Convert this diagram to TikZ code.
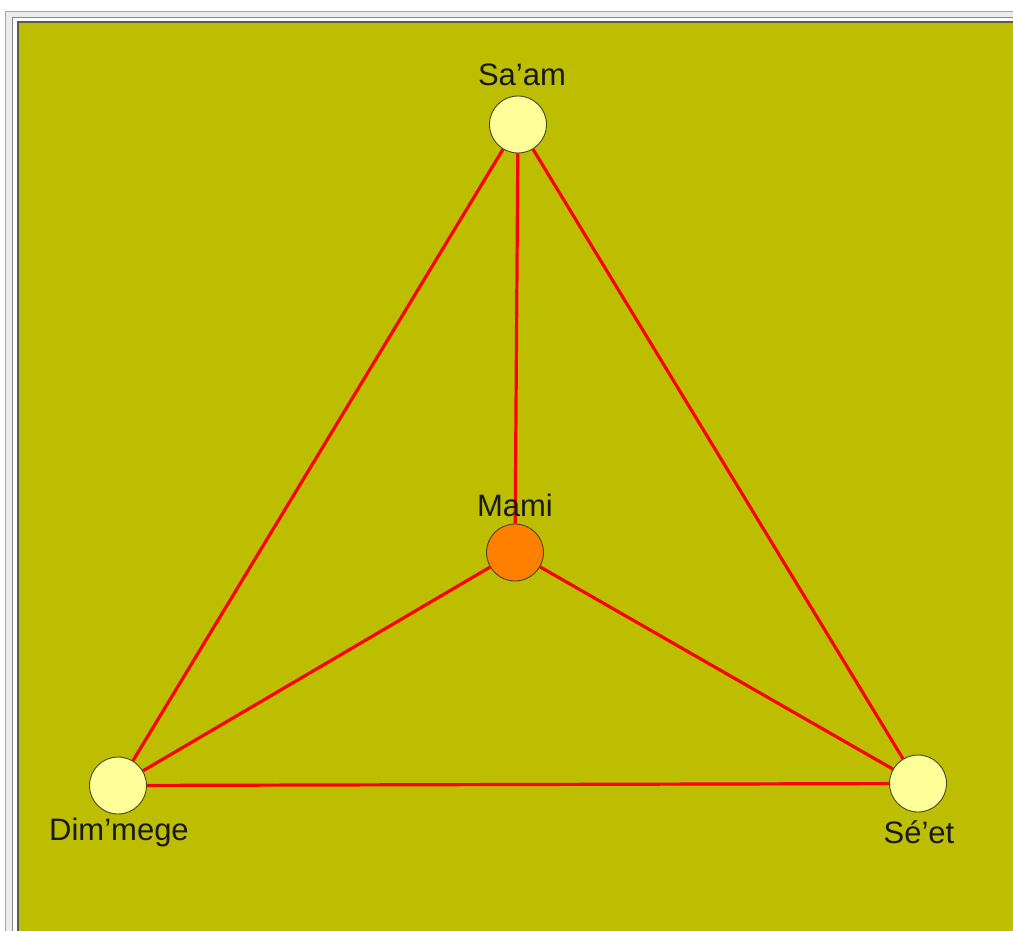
\documentclass[tikz,border=0pt]{standalone}
\usepackage{fontspec}
\setmainfont{Liberation Sans}
\definecolor{olive}{RGB}{190,190,0}
\definecolor{nodeyellow}{RGB}{255,255,153}
\definecolor{nodeorange}{RGB}{255,128,0}
\definecolor{ringcol}{RGB}{70,70,30}
\definecolor{frameouter}{RGB}{165,165,165}
\definecolor{framefill}{RGB}{236,236,236}
\definecolor{frameinner}{RGB}{90,90,80}
\pgfdeclarelayer{framelayer}
\pgfdeclarelayer{edgelayer}
\pgfsetlayers{framelayer,edgelayer,main}
\begin{document}
\begin{tikzpicture}[x=1pt,y=-1pt,
  vertex/.style={circle,draw=ringcol,line width=0.9pt,minimum size=57pt,inner sep=0pt},
  light/.style={vertex,fill=nodeyellow},
  hub/.style={vertex,fill=nodeorange},
  lbl/.style={anchor=base,font=\fontsize{31}{36}\selectfont,text=black!90,inner sep=0pt},
  link/.style={draw=red,line width=3.2pt}]
\useasboundingbox (0,0) rectangle (1013,931);
\begin{pgfonlayer}{framelayer}
\fill[white] (0,0) rectangle (1013,931);
\filldraw[fill=framefill,draw=frameouter,line width=1.2pt] (5.5,11.5) rectangle (1030,950);
\filldraw[fill=white,draw=frameouter!80!black,line width=1.2pt] (12.5,17.5) rectangle (1030,950);
\filldraw[fill=olive,draw=frameinner,line width=2pt] (17.5,22) rectangle (1030,950);
\end{pgfonlayer}
% nodes
\node[light] (saam) at (518,124.5) {};
\node[hub] (mami) at (515,552.5) {};
\node[light] (dim) at (118,785.5) {};
\node[light] (seet) at (918,783.5) {};
% labels
\node[lbl] (saamL) at (522,86) {Sa’am};
\node[lbl] (mamiL) at (515,516) {Mami};
\node[lbl] (dimL) at (119,840) {Dim’mege};
\node[lbl] (seetL) at (919,843) {Sé’et};
% edges
\begin{pgfonlayer}{edgelayer}
\path[link] (saam) -- (mami);
\path[link] (saam) -- (dim);
\path[link] (saam) -- (seet);
\path[link] (mami) -- (dim);
\path[link] (mami) -- (seet);
\path[link] (dim) -- (seet);
\end{pgfonlayer}
\end{tikzpicture}
\end{document}
